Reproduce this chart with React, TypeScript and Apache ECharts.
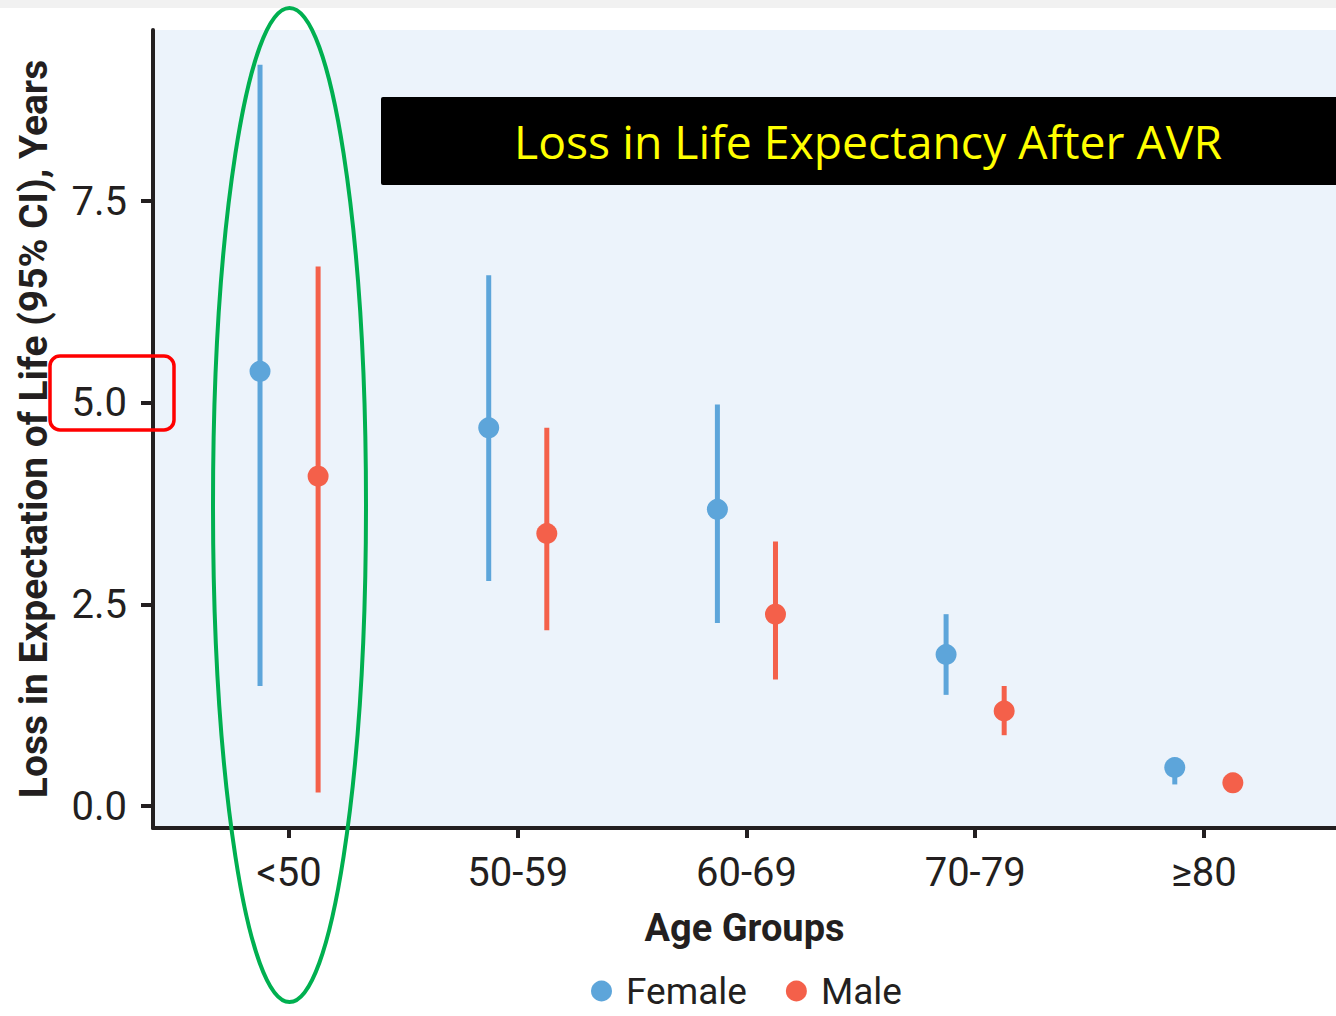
import React, { useEffect, useRef } from "react";
import * as echarts from "echarts";

const categories = ["<50", "50-59", "60-69", "70-79", "≥80"];
const femaleEstimate = [5.39, 4.69, 3.68, 1.88, 0.48];
const femaleLower = [1.49, 2.79, 2.27, 1.38, 0.27];
const femaleUpper = [9.19, 6.58, 4.98, 2.38, 0.58];
const maleEstimate = [4.09, 3.38, 2.38, 1.18, 0.29];
const maleLower = [0.17, 2.18, 1.57, 0.88, 0.2];
const maleUpper = [6.69, 4.69, 3.28, 1.49, 0.38];
const yTicks = [0, 2.5, 5, 7.5];

const titleText = "Loss in Life Expectancy After AVR";
const yAxisTitle = "Loss in Expectation of Life (95% CI), Years";
const xAxisTitle = "Age Groups";

const FEMALE_COLOR = "#5da5da";
const MALE_COLOR = "#f4604a";
const DODGE = 0.127;
const FONT = "Roboto, 'Noto Sans', sans-serif";

export default function App() {
  const ref = useRef<HTMLDivElement>(null);

  useEffect(() => {
    if (!ref.current) return;
    const chart = echarts.init(ref.current, null, { renderer: "svg" });
    const catIdx = categories.map((_, i) => i);

    const errorSeries = (name: string, lower: number[], upper: number[], off: number, color: string) => ({
      type: "custom",
      name,
      data: categories.map((_, i) => [i + off, lower[i], upper[i]]),
      encode: { x: 0, y: [1, 2] },
      z: 2,
      renderItem: (params: any, api: any) => {
        const x = api.value(0);
        const p1 = api.coord([x, api.value(1)]);
        const p2 = api.coord([x, api.value(2)]);
        return {
          type: "line",
          shape: { x1: p1[0], y1: p1[1], x2: p2[0], y2: p2[1] },
          style: { stroke: color, lineWidth: 5 },
        };
      },
    });

    const option: any = {
      animation: false,
      backgroundColor: "#ffffff",
      textStyle: { fontFamily: FONT },
      grid: {
        left: 153,
        top: 30,
        right: 0,
        bottom: 188,
        show: true,
        backgroundColor: "#ecf3fb",
        borderWidth: 0,
      },
      xAxis: {
        type: "value",
        min: -0.595,
        max: 4.578,
        splitLine: { show: false },
        axisLine: { show: true, onZero: false, lineStyle: { color: "#231f20", width: 4 } },
        axisTick: {
          show: true,
          customValues: catIdx,
          length: 10,
          lineStyle: { color: "#231f20", width: 4 },
        },
        axisLabel: {
          customValues: catIdx,
          formatter: (v: number) => categories[Math.round(v)] ?? "",
          fontSize: 40,
          color: "#231f20",
          margin: 24,
          fontFamily: FONT,
        },
        name: xAxisTitle,
        nameLocation: "middle",
        nameGap: 81,
        nameTextStyle: { fontSize: 38, fontWeight: "bold", color: "#231f20", fontFamily: FONT },
      },
      yAxis: {
        type: "value",
        min: -0.27,
        max: 9.62,
        splitLine: { show: false },
        axisLine: { show: true, onZero: false, lineStyle: { color: "#231f20", width: 4 } },
        axisTick: {
          show: true,
          customValues: yTicks,
          length: 12,
          lineStyle: { color: "#231f20", width: 4 },
        },
        axisLabel: {
          customValues: yTicks,
          formatter: (v: number) => v.toFixed(1),
          fontSize: 40,
          color: "#231f20",
          margin: 26,
          fontFamily: FONT,
        },
        name: yAxisTitle,
        nameLocation: "middle",
        nameRotate: 90,
        nameGap: 100,
        nameTextStyle: { fontSize: 39, fontWeight: "bold", color: "#231f20", fontFamily: FONT },
      },
      legend: {
        data: ["Female", "Male"],
        icon: "circle",
        itemWidth: 21,
        itemHeight: 21,
        itemGap: 39,
        left: 586,
        top: 966,
        textStyle: { fontSize: 37, lineHeight: 40, color: "#231f20", fontFamily: FONT, padding: [0, 0, 0, 9] },
      },
      series: [
        errorSeries("Female CI", femaleLower, femaleUpper, -DODGE, FEMALE_COLOR),
        errorSeries("Male CI", maleLower, maleUpper, DODGE, MALE_COLOR),
        {
          type: "scatter",
          name: "Female",
          data: categories.map((_, i) => [i - DODGE, femaleEstimate[i]]),
          symbol: "circle",
          symbolSize: 21,
          itemStyle: { color: FEMALE_COLOR, opacity: 1 },
          z: 3,
        },
        {
          type: "scatter",
          name: "Male",
          data: categories.map((_, i) => [i + DODGE, maleEstimate[i]]),
          symbol: "circle",
          symbolSize: 21,
          itemStyle: { color: MALE_COLOR, opacity: 1 },
          z: 3,
        },
      ],
      graphic: [
        {
          type: "rect",
          left: 0,
          top: 0,
          shape: { width: 1336, height: 8 },
          style: { fill: "#f1f1f1" },
          z: 10,
        },
        {
          type: "rect",
          shape: { x: 381, y: 97, width: 960, height: 88, r: 2 },
          style: { fill: "#000000" },
          z: 10,
        },
        {
          type: "text",
          x: 868,
          y: 141,
          style: {
            text: titleText,
            fill: "#ffff00",
            font: "46.3px 'Open Sans', sans-serif",
            align: "center",
            verticalAlign: "middle",
          },
          z: 11,
        },
        {
          type: "ellipse",
          shape: { cx: 289.5, cy: 505, rx: 76.5, ry: 497 },
          style: { fill: "none", stroke: "#00b050", lineWidth: 4 },
          z: 12,
        },
        {
          type: "rect",
          shape: { x: 50, y: 356, width: 124, height: 74, r: 10 },
          style: { fill: "none", stroke: "#ff0000", lineWidth: 3.5 },
          z: 12,
        },
      ],
    };

    chart.setOption(option);
    return () => chart.dispose();
  }, []);

  return (
    <div
      ref={ref}
      style={{ position: "absolute", left: 0, top: 0, width: 1336, height: 1016 }}
    />
  );
}
